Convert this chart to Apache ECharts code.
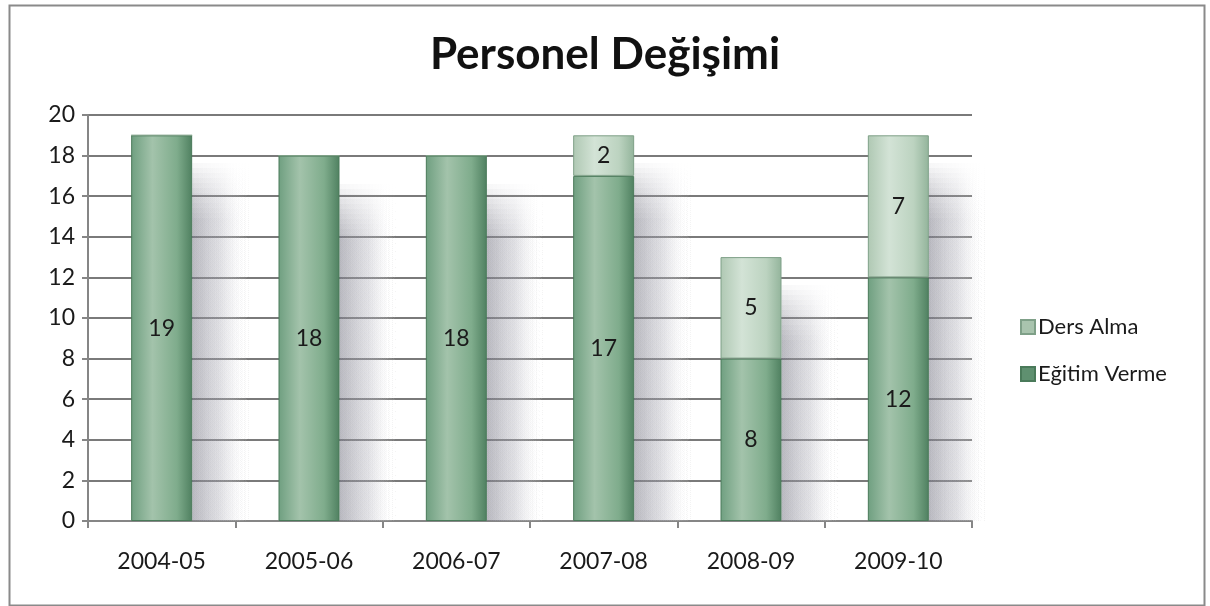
<!DOCTYPE html>
<html>
<head>
<meta charset="utf-8">
<script src="https://cdn.jsdelivr.net/npm/echarts@6/dist/echarts.min.js"></script>
<style>
  html, body { margin: 0; padding: 0; background: #fff; }
  #chart { width: 1210px; height: 606px; }
</style>
</head>
<body>
<div id="chart"></div>
<script>
  // veriler
  const years = ['2004-05', '2005-06', '2006-07', '2007-08', '2008-09', '2009-10']
  const egitimVerme = [19, 18, 18, 17, 8, 12]
  const dersAlma = [0, 0, 0, 2, 5, 7]
  const yTicks = { min: 0, max: 20, interval: 2 }

  const fontFam = 'Lato, "Open Sans", sans-serif'
  const barW = 61

  const darkGreen = new echarts.graphic.LinearGradient(0, 0, 1, 0, [
    { offset: 0, color: '#6f9f80' },
    { offset: 0.35, color: '#a3c3ab' },
    { offset: 0.75, color: '#7fac8c' },
    { offset: 1, color: '#4f8060' }
  ])
  const lightGreen = new echarts.graphic.LinearGradient(0, 0, 1, 0, [
    { offset: 0, color: '#afc8b3' },
    { offset: 0.35, color: '#d3e3d6' },
    { offset: 0.75, color: '#bcd3c0' },
    { offset: 1, color: '#93b49b' }
  ])

  const labelCfg = {
    show: true,
    position: 'inside',
    fontFamily: fontFam,
    fontSize: 23,
    color: '#1a1a1a',
    formatter: (p) => p.value === 0 ? '' : p.value
  }

  // toplamlar (gölge için)
  const totals = years.map((y, i) => [i, egitimVerme[i] + dersAlma[i]])

  function shadowFill (a) {
    return new echarts.graphic.LinearGradient(0, 0, 1, 0, [
      { offset: 0, color: 'rgba(130,130,142,' + a + ')' },
      { offset: 0.5, color: 'rgba(175,175,185,' + (a * 0.6) + ')' },
      { offset: 1, color: 'rgba(255,255,255,0)' }
    ])
  }

  // çubukların arkasındaki gölge: üstü yumuşak
  function renderShadow (params, api) {
    const top = api.coord([api.value(0), api.value(1)])
    const base = api.coord([api.value(0), 0])
    const x = top[0] + barW / 2
    const w = 58
    const yStart = top[1] + 28
    const step = 5
    const n = 12
    const children = []
    for (let k = 0; k < n; k++) {
      const y = Math.round(yStart + k * step)
      if (y >= base[1]) break
      children.push({
        type: 'rect',
        shape: { x: x, y: y, width: w, height: base[1] - y },
        style: { fill: shadowFill(0.065) }
      })
    }
    return { type: 'group', silent: true, children: children }
  }

  const chart = echarts.init(document.getElementById('chart'))
  chart.setOption({
    animation: false,
    title: {
      text: 'Personel Değişimi',
      left: 'center',
      top: 28,
      textStyle: { fontFamily: fontFam, fontSize: 44, fontWeight: 'bold', color: '#111' }
    },
    legend: {
      orient: 'vertical',
      left: 1015,
      top: 311,
      itemGap: 25,
      itemWidth: 14,
      itemHeight: 14,
      icon: 'rect',
      textStyle: { fontFamily: fontFam, fontSize: 22, color: '#1a1a1a', padding: [0, 0, 0, -2] },
      data: [
        { name: 'Ders Alma', itemStyle: { color: '#a9c4ae' } },
        { name: 'Eğitim Verme', itemStyle: { color: '#5f9070' } }
      ]
    },
    grid: { left: 88, right: 238, top: 115, bottom: 85 },
    graphic: [{
      type: 'rect',
      left: 7,
      top: 3,
      shape: { width: 1195, height: 600 },
      style: { fill: 'none', stroke: '#8a8a8a', lineWidth: 2 },
      silent: true
    }],
    xAxis: {
      type: 'category',
      data: years,
      axisLine: { lineStyle: { color: '#868686', width: 2 } },
      axisTick: { show: true, length: 7, lineStyle: { color: '#868686', width: 2 } },
      axisLabel: { margin: 29, fontFamily: fontFam, fontSize: 23, color: '#1a1a1a' }
    },
    yAxis: {
      type: 'value',
      min: yTicks.min,
      max: yTicks.max,
      interval: yTicks.interval,
      axisLine: { show: true, lineStyle: { color: '#868686', width: 2 } },
      axisTick: { show: true, length: 6, lineStyle: { color: '#868686', width: 2 } },
      axisLabel: { margin: 13, fontFamily: fontFam, fontSize: 23, color: '#1a1a1a' },
      splitLine: { lineStyle: { color: '#7a7a7a', width: 2 } }
    },
    series: [
      {
        type: 'custom',
        renderItem: renderShadow,
        data: totals,
        z: 1,
        silent: true,
        tooltip: { show: false }
      },
      {
        name: 'Eğitim Verme',
        type: 'bar',
        stack: 'toplam',
        barWidth: barW,
        z: 3,
        data: egitimVerme,
        itemStyle: { color: darkGreen, borderColor: '#4a7a5a', borderWidth: 1 },
        label: labelCfg
      },
      {
        name: 'Ders Alma',
        type: 'bar',
        stack: 'toplam',
        barWidth: barW,
        z: 3,
        data: dersAlma,
        itemStyle: { color: lightGreen, borderColor: '#7fa088', borderWidth: 1 },
        label: labelCfg
      }
    ]
  })
</script>
</body>
</html>
